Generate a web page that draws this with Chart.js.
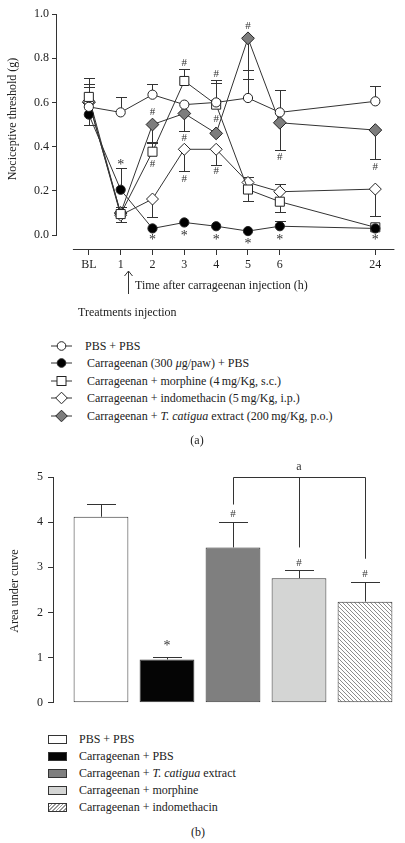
<!DOCTYPE html>
<html>
<head>
<meta charset="utf-8">
<script src="https://cdn.jsdelivr.net/npm/chart.js@4.4.1/dist/chart.umd.min.js"></script>
<style>
  body { margin: 0; background: #fff; width: 405px; height: 843px; position: relative; overflow: hidden;
         font-family: 'Liberation Serif', 'DejaVu Serif', serif; color: #222; }
  canvas { position: absolute; left: 0; }
  #chartA { top: 0; }
  #chartB { top: 440px; }
  .row { position: absolute; font-size: 12px; line-height: 16px; height: 16px; white-space: nowrap; }
  .row svg, .row span.sw { position: absolute; left: 0; top: 2px; }
  .row .txt { position: absolute; top: 0; }
  .cap { position: absolute; font-size: 12px; width: 40px; text-align: center; }
</style>
</head>
<body>
<canvas id="chartA" width="405" height="330"></canvas>
<canvas id="chartB" width="405" height="275"></canvas>
<div id="legendA"></div>
<div class="cap" style="left:177px;top:433px">(a)</div>
<div id="legendB"></div>
<div class="cap" style="left:178px;top:825px">(b)</div>

<script>
// ---- panel (a): nociceptive threshold over time ----
const timeSlots = [0, 1, 2, 3, 4, 5, 6, 9];          // broken axis: 24 h sits at slot 9
const timeLabels = ['BL', '1', '2', '3', '4', '5', '6', '24'];
const thresholdTicks = [0, 0.2, 0.4, 0.6, 0.8, 1.0];

// error values: positive = bar drawn upward, negative = downward, 0 = none
const pbsPbs       = [0.58, 0.555, 0.635, 0.59, 0.60, 0.62, 0.555, 0.605];
const pbsPbsErr    = [0, 0.07, 0.05, 0, 0.09, 0.125, 0.10, 0.07];
const carrPbs      = [0.545, 0.205, 0.03, 0.057, 0.04, 0.018, 0.04, 0.03];
const carrPbsErr   = [-0.045, 0.10, 0, 0, 0, 0, 0.025, 0];
const carrMorph    = [0.625, 0.095, 0.377, 0.697, 0.59, 0.206, 0.151, 0.035];
const carrMorphErr = [0.085, 0.03, 0.04, 0.055, 0.11, -0.05, -0.045, 0];
const carrIndo     = [0.605, 0.09, 0.163, 0.388, 0.388, 0.238, 0.196, 0.208];
const carrIndoErr  = [0.08, -0.03, -0.08, -0.10, -0.07, 0.025, 0.035, -0.12];
const carrTc       = [0.60, 0.10, 0.50, 0.55, 0.46, 0.89, 0.508, 0.475];
const carrTcErr    = [0.07, 0, -0.08, -0.08, 0, -0.185, -0.125, -0.13];

const legendALabels = [
  'PBS + PBS',
  'Carrageenan (300 <i>\u03bc</i>g/paw) + PBS',
  'Carrageenan + morphine (4\u2009mg/Kg, s.c.)',
  'Carrageenan + indomethacin (5\u2009mg/Kg, i.p.)',
  'Carrageenan + <i>T. catigua</i> extract (200\u2009mg/Kg, p.o.)'
];

// significance marks (slot, value, symbol)
const markSlots  = [1, 2, 2, 2, 3, 3, 3, 3, 4, 4, 4, 4, 5, 5, 6, 6, 9, 9];
const markValues = [0.327, 0.555, 0.32, -0.01, 0.78, 0.4375, 0.252, 0.008, 0.73, 0.525, 0.29, -0.01, 0.943, -0.03, 0.354, -0.01, 0.306, -0.012];
const markTexts  = ['*', '#', '#', '*', '#', '#', '#', '*', '#', '#', '#', '*', '#', '*', '#', '*', '#', '*'];

// ---- panel (b): area under curve ----
const groups = ['PBS + PBS', 'Carrageenan + PBS', 'Carrageenan + <i>T. catigua</i> extract',
                'Carrageenan + morphine', 'Carrageenan + indomethacin'];
const auc = [4.12, 0.96, 3.44, 2.76, 2.24];
const aucErr = [0.28, 0.05, 0.57, 0.17, 0.44];
const aucMarks = ['', '*', '#', '#', '#'];
const aucMarkValues = [null, 1.32, 4.18, 3.1, 2.86];
const bracketBars = [2, 3, 4];
const bracketDrop = [4.39, 3.44, 3.19];
const bracketLevel = 5.0;
const bracketText = 'a';
const bracketTextValue = 5.22;

const serif = "'Liberation Serif', 'DejaVu Serif', serif";
const ink = '#222';

function hatchPattern() {
  const c = document.createElement('canvas');
  c.width = 4; c.height = 4;
  const g = c.getContext('2d');
  g.fillStyle = '#fff';
  g.fillRect(0, 0, 4, 4);
  g.strokeStyle = '#8c8c8c';
  g.lineWidth = 1;
  g.beginPath();
  g.moveTo(0, 0); g.lineTo(4, 4);
  g.moveTo(-1, 3); g.lineTo(1, 5);
  g.moveTo(3, -1); g.lineTo(5, 1);
  g.stroke();
  return g.createPattern(c, 'repeat');
}

const seriesA = [
  { values: pbsPbs, err: pbsPbsErr, style: 'circle', r: 4.6, fill: '#fff' },
  { values: carrPbs, err: carrPbsErr, style: 'circle', r: 4.6, fill: '#000' },
  { values: carrMorph, err: carrMorphErr, style: 'rect', r: 6.4, fill: '#fff' },
  { values: carrIndo, err: carrIndoErr, style: 'rectRot', r: 6, fill: '#fff' },
  { values: carrTc, err: carrTcErr, style: 'rectRot', r: 6.4, fill: '#7d7d7d' }
];

function drawRotatedTitle(ctx, text, x, y) {
  ctx.save();
  ctx.translate(x, y);
  ctx.rotate(-Math.PI / 2);
  ctx.font = '12px ' + serif;
  ctx.fillStyle = ink;
  ctx.textAlign = 'center';
  ctx.textBaseline = 'middle';
  ctx.fillText(text, 0, 0);
  ctx.restore();
}

// error bars, axis lines and labels for panel (a)
const panelADecor = {
  id: 'panelADecor',
  beforeDatasetsDraw(chart) {
    const { ctx, scales: { x, y } } = chart;
    ctx.save();
    ctx.strokeStyle = '#333';
    ctx.lineWidth = 1;
    seriesA.forEach(s => {
      s.err.forEach((e, i) => {
        if (!e) return;
        const px = Math.round(x.getPixelForValue(timeSlots[i])) + 0.5;
        const p0 = y.getPixelForValue(s.values[i]);
        const p1 = Math.round(y.getPixelForValue(s.values[i] + e)) + 0.5;
        ctx.beginPath();
        ctx.moveTo(px, p0); ctx.lineTo(px, p1);
        ctx.moveTo(px - 5.5, p1); ctx.lineTo(px + 5.5, p1);
        ctx.stroke();
      });
    });
    ctx.restore();
  },
  afterDraw(chart) {
    const { ctx, chartArea, scales: { x, y } } = chart;
    ctx.save();
    ctx.strokeStyle = '#333';
    ctx.lineWidth = 1;
    // detached axis lines
    const ax = chartArea.left - 0.5;
    const bottom = Math.round(chartArea.bottom) + 0.5;
    ctx.beginPath();
    ctx.moveTo(ax, y.getPixelForValue(0));
    ctx.lineTo(ax, y.getPixelForValue(1.0));
    ctx.moveTo(x.getPixelForValue(-0.5), bottom);
    ctx.lineTo(x.getPixelForValue(9.6), bottom);
    ctx.stroke();

    // significance marks
    ctx.fillStyle = '#333';
    ctx.textAlign = 'center';
    ctx.textBaseline = 'middle';
    markTexts.forEach((t, i) => {
      ctx.font = (t === '*' ? '14px ' : '11px ') + serif;
      const dy = t === '*' ? 3 : 0;
      ctx.fillText(t, x.getPixelForValue(markSlots[i]), y.getPixelForValue(markValues[i]) + dy);
    });

    // titles and treatment arrow
    ctx.fillStyle = ink;
    ctx.font = '12px ' + serif;
    ctx.textAlign = 'left';
    ctx.fillText('Time after carrageenan injection (h)', 135, 286);
    ctx.fillText('Treatments injection', 78, 313);
    const arrowX = Math.round(x.getPixelForValue(1.22)) + 0.5;
    ctx.beginPath();
    ctx.moveTo(arrowX, 294); ctx.lineTo(arrowX, 271);
    ctx.moveTo(arrowX - 4, 276); ctx.lineTo(arrowX, 271); ctx.lineTo(arrowX + 4, 276);
    ctx.stroke();
    ctx.restore();
    drawRotatedTitle(ctx, 'Nociceptive threshold (g)', 13, 119);
  }
};

new Chart(document.getElementById('chartA'), {
  type: 'line',
  data: {
    datasets: seriesA.map(s => ({
      data: timeSlots.map((t, i) => ({ x: t, y: s.values[i] })),
      borderColor: '#333',
      borderWidth: 1,
      tension: 0,
      fill: false,
      pointStyle: s.style,
      pointRadius: s.r,
      pointBackgroundColor: s.fill,
      pointBorderColor: '#222',
      pointBorderWidth: 1
    }))
  },
  options: {
    responsive: false,
    animation: false,
    layout: { padding: { top: 14, right: 7, left: 0, bottom: 0 } },
    plugins: { legend: { display: false }, tooltip: { enabled: false } },
    scales: {
      x: {
        type: 'linear',
        min: -1,
        max: 9.7,
        afterBuildTicks: s => { s.ticks = timeSlots.map(v => ({ value: v })); },
        afterFit: s => { s.height = 81; },
        ticks: { callback: (v, i) => timeLabels[i], autoSkip: false, maxRotation: 0,
                 padding: 3, color: ink, font: { family: serif, size: 12 } },
        grid: { drawOnChartArea: false, tickLength: 6, color: '#333' },
        border: { display: false }
      },
      y: {
        min: -0.063,
        max: 1.0,
        afterBuildTicks: s => { s.ticks = thresholdTicks.map(v => ({ value: v })); },
        afterFit: s => { s.width = 57; },
        ticks: { callback: v => v.toFixed(1), padding: 3, color: ink, font: { family: serif, size: 12 } },
        grid: { drawOnChartArea: false, tickLength: 5, color: '#333' },
        border: { display: false }
      }
    }
  },
  plugins: [panelADecor]
});

// ---- panel (b) ----
const barFills = ['#ffffff', '#050505', '#7f7f7f', '#d4d5d4', hatchPattern()];

const panelBDecor = {
  id: 'panelBDecor',
  afterDatasetsDraw(chart) {
    const { ctx, scales: { x, y } } = chart;
    ctx.save();
    ctx.strokeStyle = '#333';
    ctx.lineWidth = 1;
    auc.forEach((v, i) => {
      const px = Math.round(x.getPixelForValue(i)) + 0.5;
      const p1 = Math.round(y.getPixelForValue(v + aucErr[i])) + 0.5;
      ctx.beginPath();
      ctx.moveTo(px, y.getPixelForValue(v)); ctx.lineTo(px, p1);
      ctx.moveTo(px - 14.5, p1); ctx.lineTo(px + 14.5, p1);
      ctx.stroke();
    });
    // comparison bracket
    const top = Math.round(y.getPixelForValue(bracketLevel)) + 0.5;
    ctx.beginPath();
    ctx.moveTo(Math.round(x.getPixelForValue(bracketBars[0])) + 0.5, top);
    ctx.lineTo(Math.round(x.getPixelForValue(bracketBars[bracketBars.length - 1])) + 0.5, top);
    bracketBars.forEach((b, i) => {
      const px = Math.round(x.getPixelForValue(b)) + 0.5;
      ctx.moveTo(px, top);
      ctx.lineTo(px, y.getPixelForValue(bracketDrop[i]));
    });
    ctx.stroke();

    ctx.fillStyle = '#333';
    ctx.textAlign = 'center';
    ctx.textBaseline = 'middle';
    ctx.font = '12px ' + serif;
    ctx.fillText(bracketText, x.getPixelForValue(bracketBars[1]), y.getPixelForValue(bracketTextValue));
    aucMarks.forEach((m, i) => {
      if (!m) return;
      ctx.font = (m === '*' ? '14px ' : '11px ') + serif;
      const dy = m === '*' ? 3 : 0;
      ctx.fillText(m, x.getPixelForValue(i), y.getPixelForValue(aucMarkValues[i]) + dy);
    });
    ctx.restore();
    drawRotatedTitle(ctx, 'Area under curve', 15, 151);
  }
};

new Chart(document.getElementById('chartB'), {
  type: 'bar',
  data: {
    datasets: [{
      data: auc.map((v, i) => ({ x: i, y: v })),
      backgroundColor: barFills,
      borderColor: '#333',
      borderWidth: 1,
      borderSkipped: false,
      categoryPercentage: 1,
      barPercentage: 0.83
    }]
  },
  options: {
    responsive: false,
    animation: false,
    layout: { padding: { top: 37, right: 7, left: 0, bottom: 10 } },
    plugins: { legend: { display: false }, tooltip: { enabled: false } },
    scales: {
      x: {
        type: 'linear', min: -0.727, max: 4.5, display: false, offset: false,
        afterBuildTicks: s => { s.ticks = auc.map((v, i) => ({ value: i })); }
      },
      y: {
        min: 0,
        max: 5,
        afterFit: s => { s.width = 53; },
        ticks: { stepSize: 1, padding: 5, color: ink, font: { family: serif, size: 12 } },
        grid: { drawOnChartArea: false, tickLength: 5, color: '#333' },
        border: { display: true, color: '#333', width: 1 }
      }
    }
  },
  plugins: [panelBDecor]
});

// ---- legends ----
function legendSymbol(s) {
  const line = '<line x1="0" y1="6" x2="21" y2="6" stroke="#333" stroke-width="1"/>';
  let mark;
  if (s.style === 'circle') {
    mark = `<circle cx="10.5" cy="6" r="4.3" fill="${s.fill}" stroke="#222"/>`;
  } else if (s.style === 'rect') {
    mark = `<rect x="6" y="1.5" width="9" height="9" fill="${s.fill}" stroke="#222"/>`;
  } else {
    mark = `<polygon points="10.5,0.2 16.3,6 10.5,11.8 4.7,6" fill="${s.fill}" stroke="#222"/>`;
  }
  return `<svg width="22" height="12">${line}${mark}</svg>`;
}

document.getElementById('legendA').innerHTML = legendALabels.map((lab, i) =>
  `<div class="row" style="left:51px;top:${338 + i * 17.4}px">${legendSymbol(seriesA[i])}` +
  `<span class="txt" style="left:${i === 0 ? 34 : 36}px">${lab}</span></div>`).join('');

const swatchCss = ['background:#fff', 'background:#050505', 'background:#7f7f7f', 'background:#d4d5d4',
  'background:repeating-linear-gradient(135deg,#fff 0 1.6px,#999 1.6px 2.6px)'];
document.getElementById('legendB').innerHTML = groups.map((g, i) =>
  `<div class="row" style="left:48px;top:${731 + i * 17.1}px">` +
  `<span class="sw" style="top:4px;width:17px;height:7px;border:1px solid #333;${swatchCss[i]}"></span>` +
  `<span class="txt" style="left:31px">${g}</span></div>`).join('');
</script>
</body>
</html>
